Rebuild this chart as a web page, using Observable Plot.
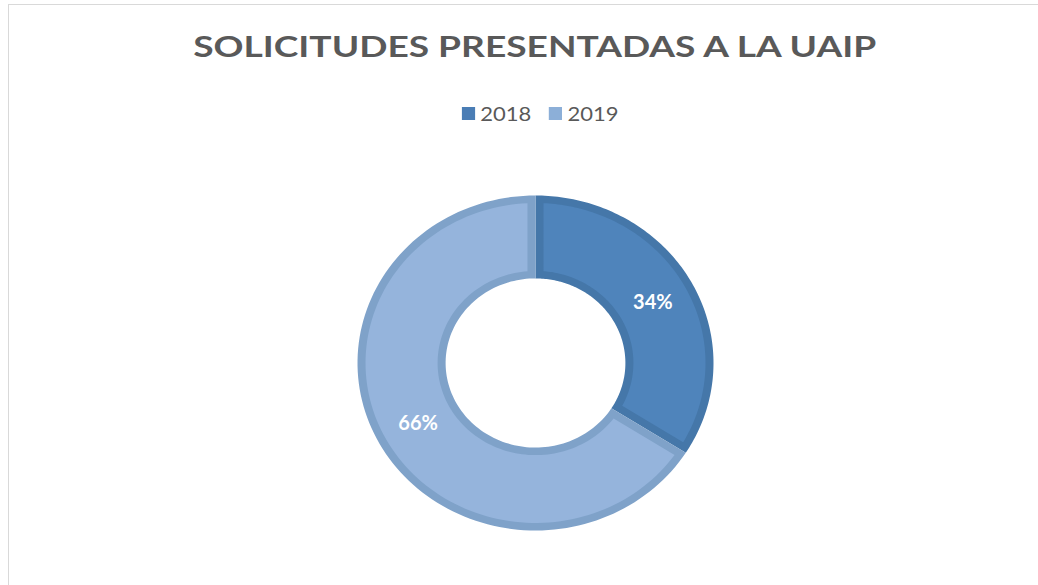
<!DOCTYPE html>
<html>
<head>
<meta charset="utf-8">
<script src="https://cdn.jsdelivr.net/npm/d3@7"></script>
<script src="https://cdn.jsdelivr.net/npm/@observablehq/plot@0.6"></script>
<style>
  html, body { margin: 0; padding: 0; background: #fff; overflow: hidden; }
  #wrap { position: relative; width: 1038px; height: 585px; overflow: hidden; }
  #frame { position: absolute; left: 8px; top: 4px; width: 1100px; height: 700px; border: 1.5px solid #d9d9d9; box-sizing: border-box; }
  #title { position: absolute; left: 16px; width: 1038px; top: 29px; text-align: center; font-family: Lato, "Open Sans", sans-serif; font-weight: bold; font-size: 28px; color: #595959; white-space: nowrap; }
  #title span { display: inline-block; transform-origin: center; }
  #legend { position: absolute; left: 21px; width: 1038px; top: 101px; display: flex; justify-content: center; align-items: center; font-family: Lato, "Open Sans", sans-serif; font-size: 20px; color: #595959; transform: scaleX(1.1); transform-origin: 519px 50%; }
  .item { display: flex; align-items: center; margin: 0 8px; }
  .sw { width: 12px; height: 13px; margin-right: 5px; }
  #chart { position: absolute; left: 0; top: 0; }
</style>
</head>
<body>
<div id="wrap">
  <div id="frame"></div>
  <div id="title"><span>SOLICITUDES PRESENTADAS A LA UAIP</span></div>
  <div id="legend"></div>
  <div id="chart"></div>
</div>
<script>
// ---- data ----
const categories = ["2018", "2019"];
const values = [34, 66];
const labels = ["34%", "66%"];

// ---- styles ----
const fillColors = ["#4f84bb", "#95b4dc"];
const edgeColors = ["#4577a9", "#7fa2c9"];
const swatchColors = ["#4a7db5", "#8cafd8"];
const R_OUT = 1, R_IN = 0.505, EDGE = 0.045;

// legend
const legend = document.getElementById("legend");
categories.forEach((c, i) => {
  const it = document.createElement("div");
  it.className = "item";
  const sw = document.createElement("div");
  sw.className = "sw";
  sw.style.background = swatchColors[i];
  const t = document.createElement("span");
  t.textContent = c;
  it.appendChild(sw); it.appendChild(t);
  legend.appendChild(it);
});

const pie = d3.pie().sort(null)(values);

function sector(a0, a1, r0, r1, d, key) {
  const pts = [];
  const n = 120;
  const ro = r1 - d, ri = r0 + d;
  const ao0 = a0 + (d > 0 ? Math.asin(d / ro) : 0), ao1 = a1 - (d > 0 ? Math.asin(d / ro) : 0);
  const ai0 = a0 + (d > 0 ? Math.asin(d / ri) : 0), ai1 = a1 - (d > 0 ? Math.asin(d / ri) : 0);
  for (let k = 0; k <= n; k++) {
    const a = ao0 + (ao1 - ao0) * k / n;
    pts.push({key, x: ro * Math.sin(a), y: ro * Math.cos(a)});
  }
  for (let k = 0; k <= n; k++) {
    const a = ai1 + (ai0 - ai1) * k / n;
    pts.push({key, x: ri * Math.sin(a), y: ri * Math.cos(a)});
  }
  pts.push(pts[0]);
  return pts;
}

const marks = [];
pie.forEach((p, i) => {
  marks.push(Plot.line(sector(p.startAngle, p.endAngle, R_IN, R_OUT, 0, categories[i]), {x: "x", y: "y", fill: edgeColors[i], stroke: "none"}));
  marks.push(Plot.line(sector(p.startAngle, p.endAngle, R_IN, R_OUT, EDGE, categories[i]), {x: "x", y: "y", fill: fillColors[i], stroke: "none"}));
});

const labelRows = pie.map((p, i) => {
  const a = (p.startAngle + p.endAngle) / 2;
  const r = (R_IN + R_OUT) / 2;
  return {x: r * Math.sin(a), y: r * Math.cos(a), text: labels[i]};
});
marks.push(Plot.text(labelRows, {x: "x", y: "y", text: "text", fill: "white", fontSize: 20, fontWeight: "bold", fontFamily: "Lato, 'Open Sans', sans-serif"}));

const chart = Plot.plot({
  width: 1038,
  height: 585,
  marginLeft: 357,
  marginRight: 325,
  marginTop: 195,
  marginBottom: 55,
  x: {domain: [-1, 1], axis: null},
  y: {domain: [-1, 1], axis: null},
  style: {background: "transparent"},
  marks
});
document.getElementById("chart").appendChild(chart);

// title horizontal stretch to match reference width
const span = document.querySelector("#title span");
const w = span.getBoundingClientRect().width;
span.style.transform = `scaleX(${683 / w})`;
</script>
</body>
</html>
